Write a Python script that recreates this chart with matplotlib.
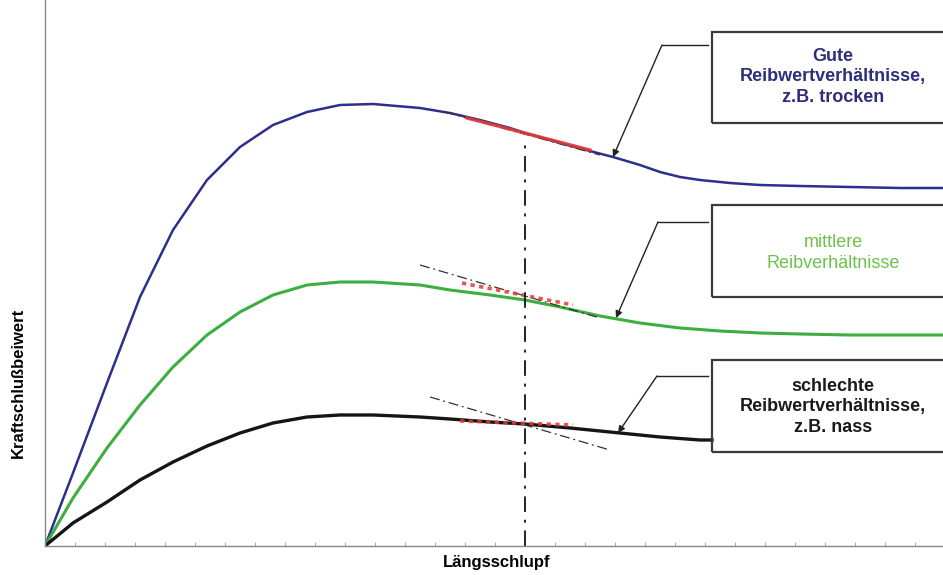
import numpy as np
import matplotlib.pyplot as plt
from matplotlib.patches import Rectangle

plt.rcParams['font.family'] = ['Liberation Sans', 'DejaVu Sans']

# curve values (slip, adhesion coefficient), arbitrary units
x_blue = [0, 28, 62, 95, 128, 162, 195, 228, 262, 295, 328, 375, 405, 435, 465, 480,
          515, 545, 568, 595, 615, 635, 655, 685, 715, 755, 805, 855, 898]
y_blue = [0, 73, 163, 249, 316, 366, 399, 421, 434, 441, 442, 438, 433, 426, 418, 413,
          403, 395, 389, 381, 374, 369, 366, 363, 361, 360, 359, 358, 358]

x_green = [0, 28, 62, 95, 128, 162, 195, 228, 262, 295, 328, 375, 405, 445, 480,
           515, 555, 595, 635, 675, 715, 755, 805, 898]
y_green = [0, 48, 98, 141, 179, 211, 234, 251, 261, 264, 264, 261, 256, 251, 246,
           239, 230, 223, 218, 215, 213, 212, 211, 211]

x_black = [0, 28, 62, 95, 128, 162, 195, 228, 262, 295, 328, 375, 405, 445, 480,
           525, 575, 615, 655, 667]
y_black = [0, 23, 44, 66, 84, 100, 113, 123, 129, 131, 131, 129, 127, 124, 122,
           118, 113, 109, 106, 106]

# tangents at the marked slip
slip_mark = 480
tan_blue_red = ([422, 545], [428, 396])
tan_blue_dd = ([400, 555], [434, 391])
tan_green_red = ([417, 528], [263, 241])
tan_green_dd = ([375, 555], [281, 228])
tan_black_red = ([415, 528], [125, 121])
tan_black_dd = ([385, 565], [149, 96])

labels = ["Gute\nReibwertverhältnisse,\nz.B. trocken",
          "mittlere\nReibverhältnisse",
          "schlechte\nReibwertverhältnisse,\nz.B. nass"]

c_blue = '#2e2f8c'
c_green = '#3dae3f'
c_black = '#151515'
c_red = '#e23a36'

fig = plt.figure(figsize=(9.43, 5.75), dpi=100)
ax = fig.add_axes([45 / 943, 29 / 575, 898 / 943, 546 / 575])
ax.set_xlim(0, 898)
ax.set_ylim(0, 546)

ax.plot(x_blue, y_blue, color=c_blue, lw=1.8, solid_joinstyle='round')
ax.plot(x_green, y_green, color=c_green, lw=2.2, solid_joinstyle='round')
ax.plot(x_black, y_black, color=c_black, lw=2.4, solid_joinstyle='round')

# tangent lines
for xs, ys in [tan_blue_dd, tan_green_dd, tan_black_dd]:
    ax.plot(xs, ys, color='#333333', lw=0.9, ls=(0, (8, 3, 1.5, 3)))
ax.plot(*tan_blue_red, color=c_red, lw=2.4, alpha=0.9)
for xs, ys in [tan_green_red, tan_black_red]:
    ax.plot(xs, ys, color=c_red, lw=2.6, ls=(0, (1.2, 1.2)), alpha=0.85)

# vertical slip marker
ax.plot([slip_mark, slip_mark], [0, 406], color='#222222', lw=1.4,
        ls=(0, (8, 4, 1.5, 4)))

# label boxes with leader arrows
boxes = [(423, 91), (249, 92), (94, 92)]
text_y = [469, 293, 139]
text_c = ['#2e2f7a', '#6cc24a', '#1a1a1a']
text_w = ['bold', 'normal', 'bold']
leaders = [((663, 501), (617, 501), (568, 389)),
           ((663, 324), (613, 324), (571, 228)),
           ((663, 170), (612, 170), (573, 113))]

for (yb, h), ty, tc, tw, lab, (p0, p1, p2) in zip(boxes, text_y, text_c, text_w, labels, leaders):
    ax.add_patch(Rectangle((667, yb), 300, h, fill=False, ec='#3a3a3a', lw=1.6,
                           clip_on=False, zorder=5))
    ax.text(788, ty, lab, ha='center', va='center', color=tc, fontsize=13,
            fontweight=tw, linespacing=1.25, zorder=6)
    ax.plot([p0[0], p1[0]], [p0[1], p1[1]], color='#222222', lw=1.0, clip_on=False)
    ax.annotate('', xy=p2, xytext=p1,
                arrowprops=dict(arrowstyle='-|>', color='#222222', lw=1.0,
                                mutation_scale=10, shrinkA=0, shrinkB=0))

for s in ['top', 'right']:
    ax.spines[s].set_visible(False)
for s in ['left', 'bottom']:
    ax.spines[s].set_color('#888888')
    ax.spines[s].set_linewidth(1.0)
ax.set_yticks([])
ax.set_xticks(np.arange(30, 898, 30))
ax.set_xticklabels([])
ax.tick_params(axis='x', direction='in', length=3, width=0.6, color='#999999')

fig.text(497 / 943, 1 - 562 / 575, 'Längsschlupf', ha='center', va='center',
         fontsize=12, fontweight='bold')
fig.text(18 / 943, 1 - 383 / 575, 'Kraftschlußbeiwert', ha='center', va='center',
         rotation=90, fontsize=12, fontweight='bold')

fig.savefig('out.png', dpi=100)
